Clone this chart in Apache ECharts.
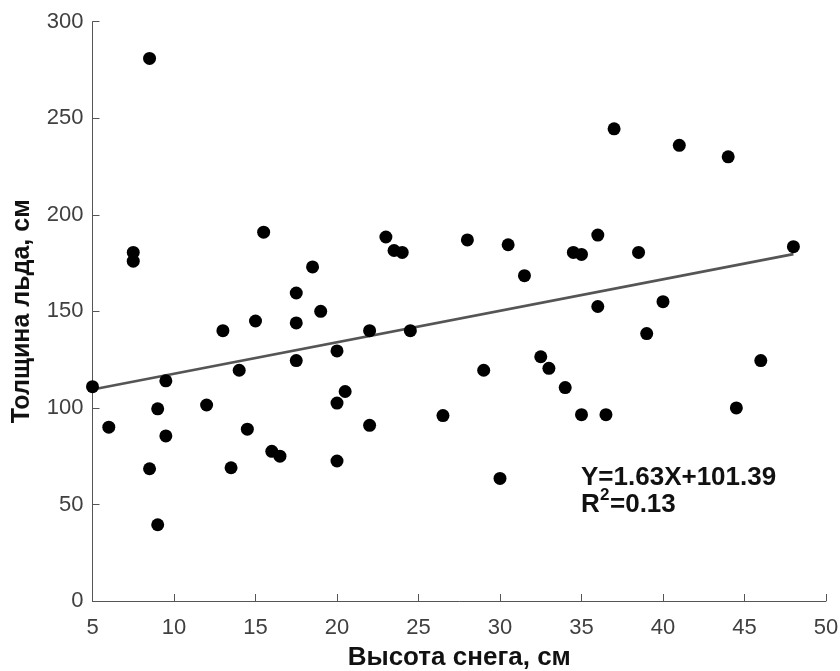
<!DOCTYPE html>
<html>
<head>
<meta charset="utf-8">
<script src="https://cdn.jsdelivr.net/npm/echarts@6/dist/echarts.min.js"></script>
<style>
html,body{margin:0;padding:0;background:#fff;}
#chart{width:840px;height:671px;}
</style>
</head>
<body>
<div id="chart"></div>
<script>
// Snow depth (cm) and ice thickness (cm)
var snowDepth = [5, 6, 7.5, 7.5, 8.5, 8.5, 9, 9, 9.5, 9.5, 12, 13, 13.5, 14, 14.5, 15, 15.5, 16, 16.5, 17.5, 17.5, 17.5, 18.5, 19, 20, 20, 20, 20.5, 22, 22, 23, 23.5, 24, 24.5, 26.5, 28, 29, 30, 30.5, 31.5, 32.5, 33, 34, 34.5, 35, 35, 36, 36, 36.5, 37, 38.5, 39, 40, 41, 41.5, 44, 44.5, 46, 48];
var iceThickness = [111, 90, 180.5, 176, 281, 68.5, 99.5, 39.5, 114, 85.5, 101.5, 140, 69, 119.5, 89, 145, 191, 77.5, 75, 159.5, 144, 124.5, 173, 150, 129.5, 102.5, 72.5, 108.5, 140, 91, 188.5, 181.5, 180.5, 140, 96, 187, 119.5, 63.5, 184.5, 168.5, 126.5, 120.5, 110.5, 180.5, 179.5, 96.5, 189.5, 152.5, 96.5, 244.5, 180.5, 138.5, 155, 236, 300.5, 230, 100, 124.5, 183.5];
// Regression line endpoints (Y = 1.63X + 101.39)
var fitX = [5, 48];
var fitY = [109.54, 179.63];
var xTicks = [5, 10, 15, 20, 25, 30, 35, 40, 45, 50];
var yTicks = [0, 50, 100, 150, 200, 250, 300];
var eqText = 'Y=1.63X+101.39';
var r2Label = 'R';
var r2Sup = '2';
var r2Text = '=0.13';

var points = snowDepth.map(function (x, i) { return [x, iceThickness[i]]; });
var fitLine = fitX.map(function (x, i) { return [x, fitY[i]]; });

var chart = echarts.init(document.getElementById('chart'), null, {renderer: 'canvas'});
var fontFam = '"Liberation Sans", Arial, sans-serif';
var annStyle = {fontFamily: fontFam, fontSize: 26, fontWeight: 'bold', fill: '#111'};
chart.setOption({
  animation: false,
  backgroundColor: '#ffffff',
  grid: {left: 92.5, right: 14, top: 21.7, bottom: 70, containLabel: false, outerBoundsMode: 'none'},
  xAxis: {
    type: 'value', min: xTicks[0], max: xTicks[xTicks.length - 1], interval: 5,
    name: 'Высота снега, см', nameLocation: 'middle', nameGap: 44,
    nameTextStyle: {fontFamily: fontFam, fontSize: 26, fontWeight: 'bold', color: '#111'},
    axisLine: {show: true, onZero: false, lineStyle: {color: '#555', width: 1}},
    axisTick: {show: true, inside: true, length: 7, lineStyle: {color: '#555'}},
    axisLabel: {fontFamily: fontFam, fontSize: 22, color: '#404040', margin: 16},
    splitLine: {show: false}
  },
  yAxis: {
    type: 'value', min: yTicks[0], max: yTicks[yTicks.length - 1], interval: 50,
    name: 'Толщина льда, см', nameLocation: 'middle', nameGap: 58, nameRotate: 90,
    nameTextStyle: {fontFamily: fontFam, fontSize: 25, fontWeight: 'bold', color: '#111'},
    axisLine: {show: true, onZero: false, lineStyle: {color: '#555', width: 1}},
    axisTick: {show: true, inside: true, length: 7, lineStyle: {color: '#555'}},
    axisLabel: {fontFamily: fontFam, fontSize: 22, color: '#404040', margin: 9},
    splitLine: {show: false}
  },
  series: [
    {
      type: 'scatter', data: points, symbol: 'circle', symbolSize: 13,
      itemStyle: {color: '#000', opacity: 1}, z: 3
    },
    {
      type: 'line', data: fitLine, symbol: 'none',
      lineStyle: {color: '#555', width: 2.7}, z: 2
    }
  ],
  graphic: [
    {type: 'text', left: 581, top: 465, style: Object.assign({text: eqText}, annStyle)},
    {type: 'text', left: 581, top: 492, style: Object.assign({text: r2Label}, annStyle)},
    {type: 'text', left: 600, top: 487, style: {text: r2Sup, fontFamily: fontFam, fontSize: 17, fontWeight: 'bold', fill: '#111'}},
    {type: 'text', left: 610, top: 492, style: Object.assign({text: r2Text}, annStyle)}
  ]
});
</script>
</body>
</html>
